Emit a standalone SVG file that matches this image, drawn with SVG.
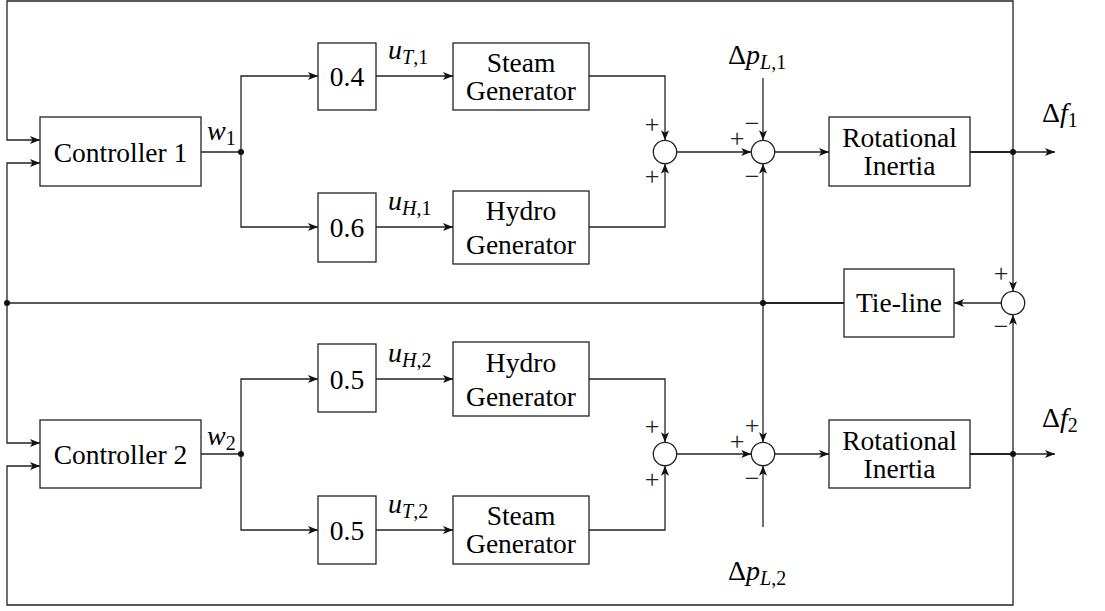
<svg xmlns="http://www.w3.org/2000/svg" width="1105" height="611" viewBox="0 0 1105 611">
<style>
.box{fill:#fff;stroke:#222;stroke-width:1.3}
.ln{fill:none;stroke:#222;stroke-width:1.3}
text{font-family:'Liberation Serif','DejaVu Serif',serif;fill:#000}
.t{font-size:27.5px;text-anchor:middle}
.m{font-size:28px}
.i{font-style:italic}
.s{font-size:20px}
.sg{font-size:26px;text-anchor:middle;fill:#222}
.sum{fill:#fff;stroke:#222;stroke-width:1.3}
.dot{fill:#111}
</style>
<defs>
<marker id="a" viewBox="0 0 10 8" markerWidth="10" markerHeight="8" refX="10" refY="4" orient="auto" markerUnits="userSpaceOnUse">
<path d="M0,0 L10,4 L0,8 L2.5,4 z" fill="#111"/>
</marker>
</defs>
<g id="connectors">
<path class="ln" d="M1013,152 V1 H7 V140 H40" marker-end="url(#a)"/>
<path class="ln" d="M7,303 V163 H40" marker-end="url(#a)"/>
<path class="ln" d="M7,303 V443 H40" marker-end="url(#a)"/>
<path class="ln" d="M1013,454 V605 H7 V466 H40" marker-end="url(#a)"/>
<path class="ln" d="M201,152 H241"/>
<path class="ln" d="M241,152 V76 H318" marker-end="url(#a)"/>
<path class="ln" d="M241,152 V227 H318" marker-end="url(#a)"/>
<path class="ln" d="M376,76 H453" marker-end="url(#a)"/>
<path class="ln" d="M376,227 H453" marker-end="url(#a)"/>
<path class="ln" d="M589,76 H665 V140.3" marker-end="url(#a)"/>
<path class="ln" d="M589,227 H665 V163.7" marker-end="url(#a)"/>
<path class="ln" d="M676.7,152 H751.3" marker-end="url(#a)"/>
<path class="ln" d="M763,78 V140.3" marker-end="url(#a)"/>
<path class="ln" d="M774.7,152 H829" marker-end="url(#a)"/>
<path class="ln" d="M970,152 H1013" style="stroke-width:2"/>
<path class="ln" d="M1013,152 H1055" marker-end="url(#a)"/>
<path class="ln" d="M1013,152 V291.3" marker-end="url(#a)"/>
<path class="ln" d="M1013,454 V314.7" marker-end="url(#a)"/>
<path class="ln" d="M1001.3,303 H954" marker-end="url(#a)"/>
<path class="ln" d="M844,303 H763" style="stroke-width:2"/>
<path class="ln" d="M763,303 H7"/>
<path class="ln" d="M763,303 V163.7" marker-end="url(#a)"/>
<path class="ln" d="M763,303 V442.3" marker-end="url(#a)"/>
<path class="ln" d="M201,454 H241"/>
<path class="ln" d="M241,454 V379 H318" marker-end="url(#a)"/>
<path class="ln" d="M241,454 V530 H318" marker-end="url(#a)"/>
<path class="ln" d="M376,379 H453" marker-end="url(#a)"/>
<path class="ln" d="M376,530 H453" marker-end="url(#a)"/>
<path class="ln" d="M589,379 H665 V442.3" marker-end="url(#a)"/>
<path class="ln" d="M589,530 H665 V465.7" marker-end="url(#a)"/>
<path class="ln" d="M676.7,454 H751.3" marker-end="url(#a)"/>
<path class="ln" d="M763,527 V465.7" marker-end="url(#a)"/>
<path class="ln" d="M774.7,454 H829" marker-end="url(#a)"/>
<path class="ln" d="M970,454 H1013" style="stroke-width:2"/>
<path class="ln" d="M1013,454 H1055" marker-end="url(#a)"/>
<circle class="dot" cx="241" cy="152" r="3"/>
<circle class="dot" cx="241" cy="454" r="3"/>
<circle class="dot" cx="7" cy="303" r="3"/>
<circle class="dot" cx="763" cy="303" r="3"/>
<circle class="dot" cx="1013" cy="152" r="3"/>
<circle class="dot" cx="1013" cy="454" r="3"/>
</g>
<g id="controller1"><rect class="box" x="40" y="117" width="161" height="69"/><text class="t" x="120.5" y="161.5">Controller 1</text></g>
<g id="controller2"><rect class="box" x="40" y="420" width="161" height="68"/><text class="t" x="120.5" y="464">Controller 2</text></g>
<g id="gain04"><rect class="box" x="318" y="43" width="58" height="67"/><text class="t" x="347" y="86">0.4</text></g>
<g id="gain06"><rect class="box" x="318" y="193" width="58" height="69"/><text class="t" x="347" y="237">0.6</text></g>
<g id="gain05a"><rect class="box" x="318" y="344" width="58" height="68"/><text class="t" x="347" y="389">0.5</text></g>
<g id="gain05b"><rect class="box" x="318" y="496" width="58" height="68"/><text class="t" x="347" y="540">0.5</text></g>
<g id="steam1"><rect class="box" x="453" y="43" width="136" height="67"/><text class="t" x="521" y="72">Steam</text><text class="t" x="521" y="100">Generator</text></g>
<g id="hydro1"><rect class="box" x="453" y="191" width="136" height="73"/><text class="t" x="521" y="220">Hydro</text><text class="t" x="521" y="254">Generator</text></g>
<g id="hydro2"><rect class="box" x="453" y="342" width="136" height="74"/><text class="t" x="521" y="372">Hydro</text><text class="t" x="521" y="406">Generator</text></g>
<g id="steam2"><rect class="box" x="453" y="496" width="136" height="68"/><text class="t" x="521" y="525">Steam</text><text class="t" x="521" y="553">Generator</text></g>
<g id="inertia1"><rect class="box" x="829" y="117" width="141" height="69"/><text class="t" x="899.5" y="147">Rotational</text><text class="t" x="899.5" y="175">Inertia</text></g>
<g id="inertia2"><rect class="box" x="829" y="420" width="141" height="68"/><text class="t" x="899.5" y="450">Rotational</text><text class="t" x="899.5" y="478">Inertia</text></g>
<g id="tieline"><rect class="box" x="844" y="269" width="110" height="68"/><text class="t" x="899" y="312">Tie-line</text></g>
<g id="sum1"><circle class="sum" cx="665" cy="152" r="11.7"/><text class="sg" x="652" y="133">+</text><text class="sg" x="652" y="185">+</text></g>
<g id="sum2"><circle class="sum" cx="763" cy="152" r="11.7"/><text class="sg" x="752" y="132">−</text><text class="sg" x="737" y="147">+</text><text class="sg" x="752" y="185">−</text></g>
<g id="sum3"><circle class="sum" cx="665" cy="454" r="11.7"/><text class="sg" x="652" y="435">+</text><text class="sg" x="652" y="488">+</text></g>
<g id="sum4"><circle class="sum" cx="763" cy="454" r="11.7"/><text class="sg" x="752" y="434">+</text><text class="sg" x="737" y="450">+</text><text class="sg" x="752" y="487">−</text></g>
<g id="sum5"><circle class="sum" cx="1013" cy="303" r="11.7"/><text class="sg" x="1001" y="282">+</text><text class="sg" x="1001" y="335">−</text></g>
<g id="labels">
<text class="m" x="207" y="140"><tspan class="i">w</tspan><tspan class="s" dy="5">1</tspan></text>
<text class="m" x="207" y="445"><tspan class="i">w</tspan><tspan class="s" dy="5">2</tspan></text>
<text class="m" x="388" y="59"><tspan class="i">u</tspan><tspan class="s i" dy="5">T</tspan><tspan class="s">,1</tspan></text>
<text class="m" x="388" y="210"><tspan class="i">u</tspan><tspan class="s i" dy="5">H</tspan><tspan class="s">,1</tspan></text>
<text class="m" x="388" y="362"><tspan class="i">u</tspan><tspan class="s i" dy="5">H</tspan><tspan class="s">,2</tspan></text>
<text class="m" x="388" y="513"><tspan class="i">u</tspan><tspan class="s i" dy="5">T</tspan><tspan class="s">,2</tspan></text>
<text class="m" x="728" y="64">Δ<tspan class="i">p</tspan><tspan class="s i" dy="5">L</tspan><tspan class="s">,1</tspan></text>
<text class="m" x="728" y="580">Δ<tspan class="i">p</tspan><tspan class="s i" dy="5">L</tspan><tspan class="s">,2</tspan></text>
<text class="m" x="1042" y="122">Δ<tspan class="i">f</tspan><tspan class="s" dy="5">1</tspan></text>
<text class="m" x="1042" y="427">Δ<tspan class="i">f</tspan><tspan class="s" dy="5">2</tspan></text>
</g>
</svg>
